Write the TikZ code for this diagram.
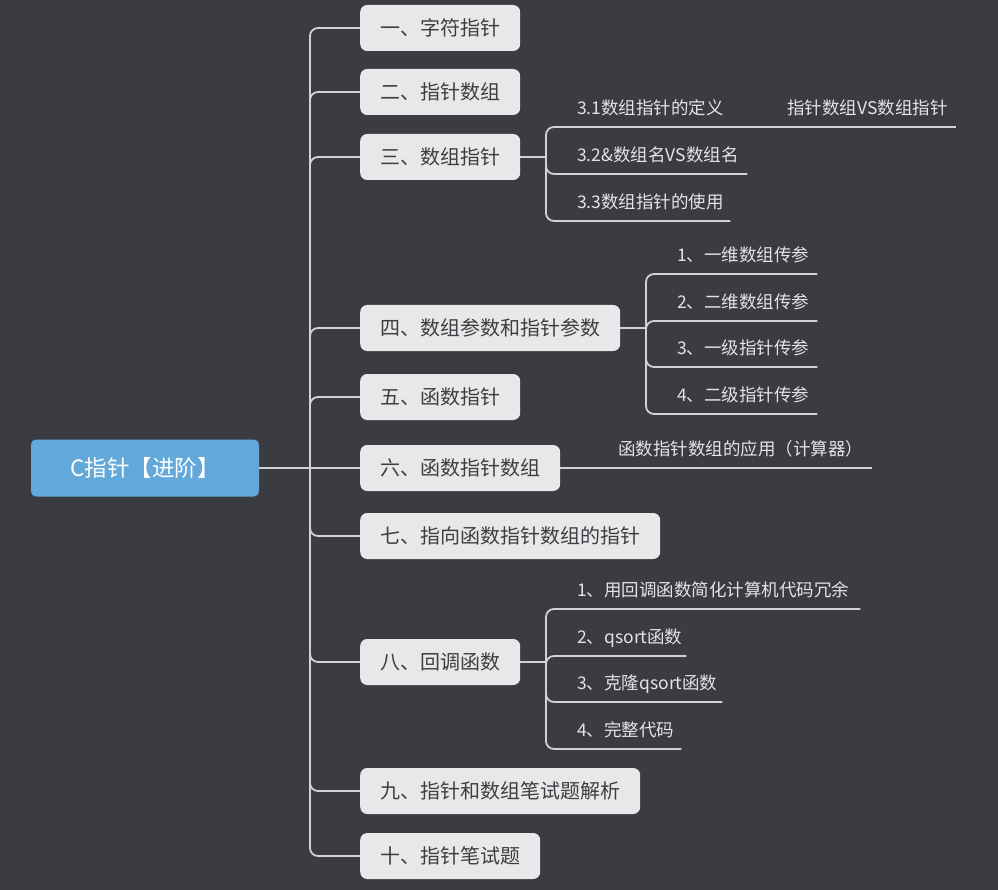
\documentclass[tikz,border=0pt]{standalone}
\usepackage{fontspec}
\newfontfamily\cjk{Noto Sans CJK SC}
\definecolor{bg}{HTML}{3B3C41}
\definecolor{linec}{HTML}{D2D2D4}
\definecolor{nodefill}{HTML}{E8E8EA}
\definecolor{nodetext}{HTML}{3E3E42}
\definecolor{subtext}{HTML}{E4E4E6}
\definecolor{rootfill}{HTML}{62A8DA}
\tikzset{
  conn/.style={draw=linec, line width=1.8pt, rounded corners=8pt},
  rootnode/.style={fill=rootfill, rounded corners=5pt, minimum width=228pt, minimum height=57pt, inner sep=0pt, text=white, font=\cjk\fontsize{22.5pt}{26pt}\selectfont},
  mainnode/.style={fill=nodefill, rounded corners=7pt, minimum height=46pt, inner xsep=20pt, inner ysep=0pt, anchor=west, text=nodetext, font=\cjk\fontsize{20pt}{24pt}\selectfont},
  subnode/.style={anchor=south west, inner sep=0pt, text depth=12.5pt, align=left, text=subtext, font=\cjk\fontsize{17.5pt}{21pt}\selectfont}
}
\begin{document}
\begin{tikzpicture}[x=1pt,y=-1pt]
\path[fill=bg] (0,0) rectangle (998,890);
% root
\node[rootnode] (root) at (145,468) {C指针【进阶】};
\coordinate (j) at (310,468);
% main nodes
\node[mainnode] (n1) at (360,28) {一、字符指针};
\node[mainnode] (n2) at (360,92) {二、指针数组};
\node[mainnode] (n3) at (360,157) {三、数组指针};
\node[mainnode] (n4) at (360,328) {四、数组参数和指针参数};
\node[mainnode] (n5) at (360,397) {五、函数指针};
\node[mainnode] (n6) at (360,468) {六、函数指针数组};
\node[mainnode] (n7) at (360,536) {七、指向函数指针数组的指针};
\node[mainnode] (n8) at (360,662) {八、回调函数};
\node[mainnode] (n9) at (360,791) {九、指针和数组笔试题解析};
\node[mainnode] (n10) at (360,856) {十、指针笔试题};
% trunk connectors
\draw[conn] (root.east) -- (n6.west);
\foreach \n in {n1,n2,n3,n4,n5,n7,n8,n9,n10}{
  \draw[conn] (j) |- (\n.west);
}
% 三 children
\coordinate (b3) at (546,157);
\node[subnode, text width=153pt] (s31) at (577,127) {3.1数组指针的定义};
\node[subnode, text width=170pt] (s32) at (577,174) {3.2\&数组名VS数组名};
\node[subnode, text width=153pt] (s33) at (577,221) {3.3数组指针的使用};
\node[subnode, text width=169pt] (g31) at (787,127) {指针数组VS数组指针};
\draw[conn] (n3.east) -- (b3);
\foreach \s in {s31,s32,s33}{ \draw[conn] (b3) |- (\s.south east); }
\draw[conn] (s31.south east) -- (g31.south east);
% 四 children
\coordinate (b4) at (646,328);
\node[subnode, text width=140pt] (s41) at (677,274) {1、一维数组传参};
\node[subnode, text width=140pt] (s42) at (677,321) {2、二维数组传参};
\node[subnode, text width=140pt] (s43) at (677,367) {3、一级指针传参};
\node[subnode, text width=140pt] (s44) at (677,414) {4、二级指针传参};
\draw[conn] (n4.east) -- (b4);
\foreach \s in {s41,s42,s43,s44}{ \draw[conn] (b4) |- (\s.south east); }
% 六 child
\node[subnode, text width=254pt] (s61) at (618,468) {函数指针数组的应用（计算器）};
\draw[conn] (n6.east) -- (s61.south east);
% 八 children
\coordinate (b8) at (546,662);
\node[subnode, text width=283pt] (s81) at (577,609) {1、用回调函数简化计算机代码冗余};
\node[subnode, text width=109pt] (s82) at (577,656) {2、qsort函数};
\node[subnode, text width=145pt] (s83) at (577,702) {3、克隆qsort函数};
\node[subnode, text width=104pt] (s84) at (577,749) {4、完整代码};
\draw[conn] (n8.east) -- (b8);
\foreach \s in {s81,s82,s83,s84}{ \draw[conn] (b8) |- (\s.south east); }
\end{tikzpicture}
\end{document}
